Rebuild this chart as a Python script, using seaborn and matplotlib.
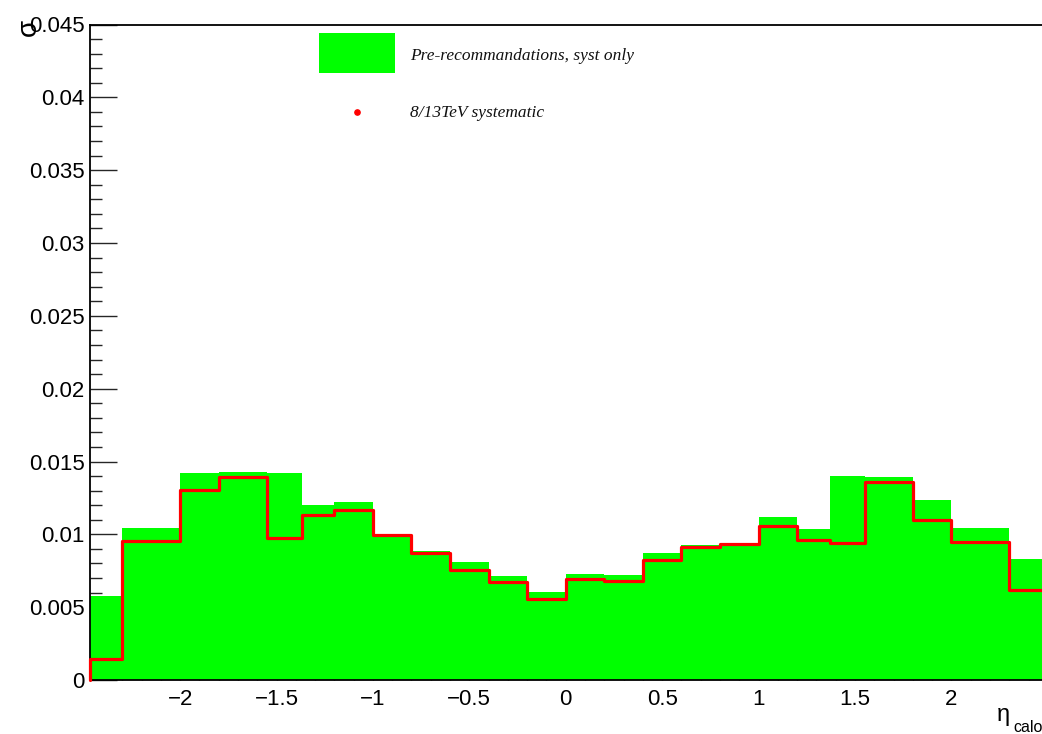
import numpy as np
import pandas as pd
import matplotlib
matplotlib.use("Agg")
import matplotlib.pyplot as plt
import seaborn as sns
from matplotlib.ticker import MultipleLocator, FuncFormatter
from matplotlib.patches import Rectangle
from matplotlib.lines import Line2D

# eta_calo binning and per-bin systematic values
eta_edges = [-2.47, -2.3, -2.0, -1.8, -1.55, -1.37, -1.2, -1.0, -0.8, -0.6, -0.4, -0.2,
             0.0, 0.2, 0.4, 0.6, 0.8, 1.0, 1.2, 1.37, 1.55, 1.8, 2.0, 2.3, 2.47]
pre_reco_syst = [0.00575, 0.01046, 0.01422, 0.01431, 0.01420, 0.01200, 0.01220, 0.01005,
                 0.00888, 0.00812, 0.00716, 0.00601, 0.00729, 0.00723, 0.00874, 0.00927,
                 0.00943, 0.01119, 0.01034, 0.01399, 0.01392, 0.01236, 0.01043, 0.00833]
syst_8_13tev = [0.00142, 0.00952, 0.01303, 0.01394, 0.00975, 0.01136, 0.01165, 0.00993,
                0.00871, 0.00757, 0.00670, 0.00553, 0.00690, 0.00681, 0.00821, 0.00913,
                0.00931, 0.01055, 0.00959, 0.00943, 0.01358, 0.01101, 0.00950, 0.00615]
legend_labels = ["Pre-recommandations, syst only", "8/13TeV systematic"]
x_title = ("η", "calo")
y_title = "σ"

GREEN = "#00ff00"
RED = "#ff0000"

sns.set_style("ticks")
plt.rcParams["font.family"] = ["Liberation Sans", "DejaVu Sans"]
plt.rcParams["axes.unicode_minus"] = True

edges = np.asarray(eta_edges)
centers = 0.5 * (edges[:-1] + edges[1:])
df = pd.DataFrame({"eta": centers, "pre": pre_reco_syst, "new": syst_8_13tev})

W, H = 1042, 734
fig = plt.figure(figsize=(W / 100, H / 100), dpi=100)
ax = fig.add_axes([89.5 / W, 1 - 680 / H, (W - 89.5) / W, (680 - 24.5) / H])

# filled histogram
sns.histplot(data=df, x="eta", weights="pre", bins=eta_edges, element="step",
             fill=True, color=GREEN, alpha=1.0, linewidth=0, ax=ax, zorder=1)
# outline histogram
sns.histplot(data=df, x="eta", weights="new", bins=eta_edges, element="step",
             fill=False, color=RED, linewidth=2.3, ax=ax, zorder=3)
outline = ax.lines[-1]
xs, ys = outline.get_data()
outline.set_data(np.r_[edges[0], xs], np.r_[0.0, ys])
outline.set_clip_on(False)
outline.set_zorder(5)

ax.set_xlim(edges[0], edges[-1])
ax.set_ylim(0, 0.045)
ax.set_xlabel("")
ax.set_ylabel("")

ax.spines["right"].set_visible(False)
for s in ("left", "bottom", "top"):
    ax.spines[s].set_linewidth(1.3)
    ax.spines[s].set_color("black")

fmt = FuncFormatter(lambda v, p: ("%g" % (0 if abs(v) < 1e-12 else v)).replace("-", "\u2212"))
ax.xaxis.set_major_locator(MultipleLocator(0.5))
ax.xaxis.set_minor_locator(MultipleLocator(0.1))
ax.yaxis.set_major_locator(MultipleLocator(0.005))
ax.yaxis.set_minor_locator(MultipleLocator(0.001))
ax.xaxis.set_major_formatter(fmt)
ax.yaxis.set_major_formatter(fmt)

ax.xaxis.set_tick_params(which="major", direction="in", length=14.4, width=1.0,
                         labelsize=16, pad=6.5, top=False)
ax.xaxis.set_tick_params(which="minor", direction="in", length=7.2, width=1.0, top=False)
ax.yaxis.set_tick_params(which="major", direction="in", length=19.4, width=1.0,
                         labelsize=16, pad=3.5, right=False)
ax.yaxis.set_tick_params(which="minor", direction="in", length=8.6, width=1.0, right=False)
for t in ax.get_xticklabels() + ax.get_yticklabels():
    t.set_color("black")

# axis titles
fig.text(29 / W, 1 - 27.5 / H, y_title, rotation=90, fontsize=20,
         ha="center", va="center", color="black")
fig.text(1003 / W, 1 - 715 / H, x_title[0], fontsize=17, ha="center", va="center",
         color="black")
fig.text(1013 / W, 1 - 728 / H, x_title[1], fontsize=11.5, ha="left", va="center",
         color="black")

# legend
fig.add_artist(Rectangle((319 / W, 1 - 73.3 / H), 76 / W, 40 / H,
                         transform=fig.transFigure, facecolor=GREEN, edgecolor="none"))
fig.add_artist(Line2D([357 / W], [1 - 111.5 / H], transform=fig.transFigure,
                      marker="o", markersize=3.8, color=RED, linestyle="none"))
fig.text(410 / W, 1 - 56.5 / H, legend_labels[0], family="Liberation Serif",
         style="italic", fontsize=12.5, ha="left", va="center", color="#111111")
fig.text(410 / W, 1 - 113 / H, legend_labels[1], family="Liberation Serif",
         style="italic", fontsize=12.5, ha="left", va="center", color="#111111")

fig.savefig("out.png", dpi=100)
